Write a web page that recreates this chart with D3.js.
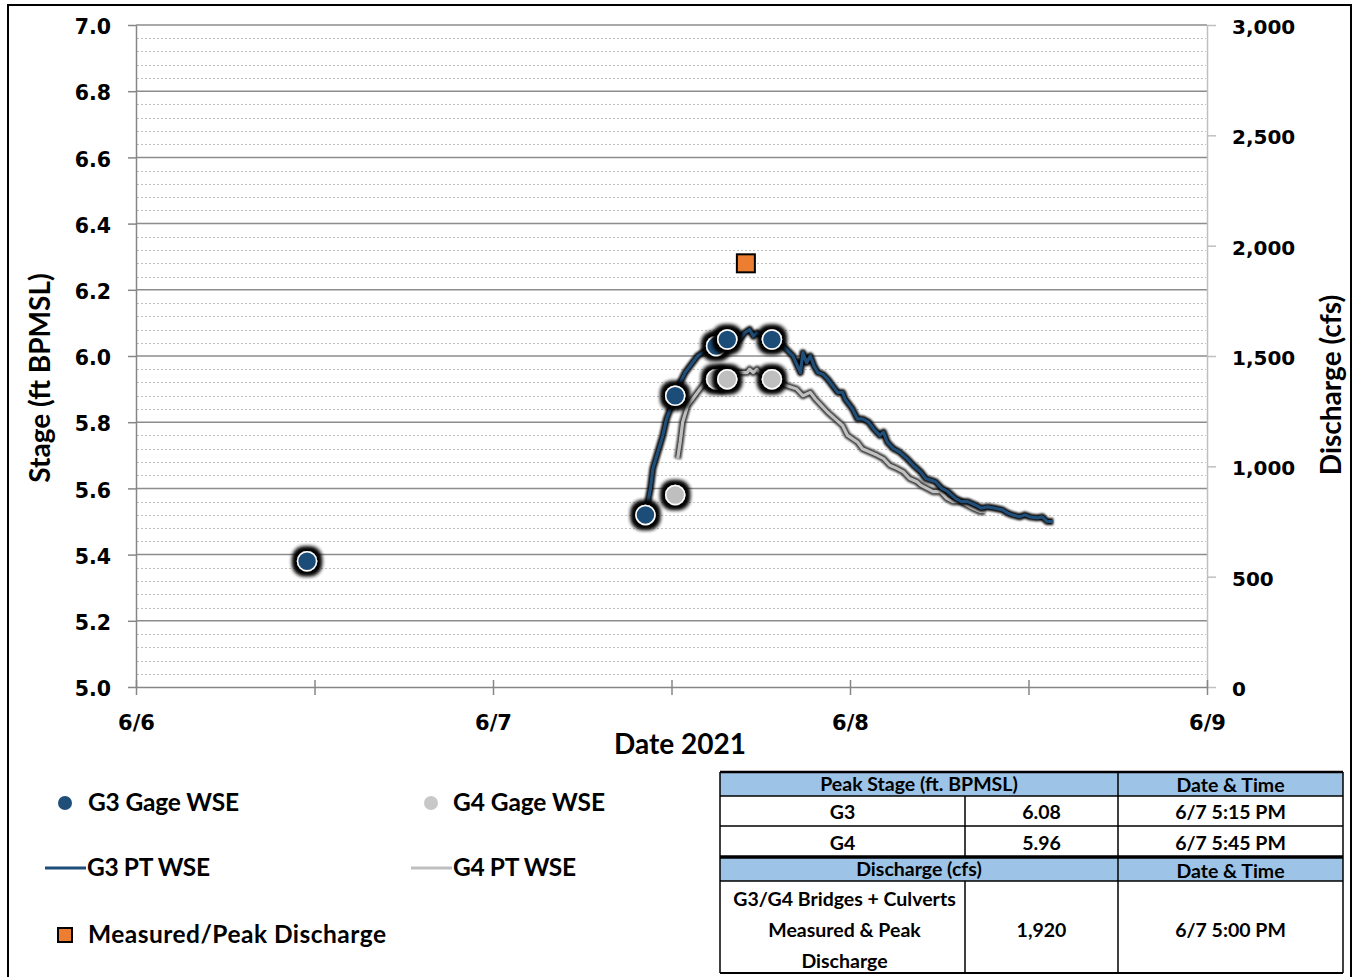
<!DOCTYPE html>
<html lang="en">
  <head>
    <meta charset="UTF-8">
    <title>Stage and Discharge</title>
    <script src="https://cdn.jsdelivr.net/npm/d3@7"></script>
    <style>
      html, body { margin: 0; padding: 0; background: #fff; }
      svg { display: block; }
      .tick text { font-family: "DejaVu Sans"; font-weight: bold; fill: #000; }
      .cal { font-family: Lato, "Open Sans", sans-serif; font-weight: bold; fill: #000; }
    </style>
  </head>
  <body>
    <script>
      // stage gage readings (ft BPMSL)
      const g3GageTimes = ["06-06 11:30", "06-07 10:15", "06-07 12:15", "06-07 15:00", "06-07 15:45", "06-07 18:45"];
      const g3GageStage = [5.38, 5.52, 5.88, 6.03, 6.05, 6.05];
      const g4GageTimes = ["06-07 12:15", "06-07 15:00", "06-07 15:45", "06-07 18:45"];
      const g4GageStage = [5.58, 5.93, 5.93, 5.93];

      // pressure transducer records
      const g3PtTimes = ["06-07 10:15", "06-07 10:35", "06-07 10:45", "06-07 11:05", "06-07 11:25", "06-07 11:40",
        "06-07 11:55", "06-07 12:15", "06-07 12:35", "06-07 12:55", "06-07 13:15", "06-07 13:35", "06-07 13:45",
        "06-07 14:05", "06-07 14:25", "06-07 15:00", "06-07 15:50", "06-07 16:25", "06-07 16:35", "06-07 16:55",
        "06-07 17:15", "06-07 17:30", "06-07 17:45", "06-07 18:05", "06-07 18:45", "06-07 18:55", "06-07 19:30",
        "06-07 20:10", "06-07 20:40", "06-07 20:50", "06-07 21:05", "06-07 21:20", "06-07 21:35", "06-07 21:50",
        "06-07 22:10", "06-07 22:30", "06-07 22:50", "06-07 23:10", "06-07 23:30", "06-07 23:40", "06-07 23:50",
        "06-08 00:10", "06-08 00:30", "06-08 00:50", "06-08 01:15", "06-08 01:35", "06-08 02:00", "06-08 02:15",
        "06-08 02:30", "06-08 02:55", "06-08 03:20", "06-08 03:50", "06-08 04:15", "06-08 04:45", "06-08 05:05",
        "06-08 05:25", "06-08 05:45", "06-08 06:10", "06-08 06:35", "06-08 07:05", "06-08 07:30", "06-08 07:55",
        "06-08 08:25", "06-08 08:50", "06-08 09:15", "06-08 09:45", "06-08 10:15", "06-08 10:35", "06-08 10:55",
        "06-08 11:25", "06-08 11:45", "06-08 12:05", "06-08 12:35", "06-08 12:55", "06-08 13:15", "06-08 13:40"];
      const g3PtStage = [5.52, 5.60, 5.66, 5.71, 5.76, 5.81,
        5.84, 5.88, 5.92, 5.95, 5.97, 5.99, 6.00,
        6.01, 6.02, 6.03, 6.05, 6.07, 6.05, 6.07,
        6.08, 6.06, 6.07, 6.06, 6.05, 6.05, 6.03,
        6.00, 5.95, 6.01, 5.98, 6.00, 5.97, 5.95,
        5.945, 5.93, 5.91, 5.89, 5.89, 5.87, 5.86,
        5.84, 5.81, 5.81, 5.80, 5.78, 5.76, 5.77,
        5.74, 5.72, 5.71, 5.69, 5.67, 5.65, 5.63,
        5.625, 5.62, 5.60, 5.59, 5.57, 5.56, 5.56,
        5.55, 5.54, 5.544, 5.54, 5.535, 5.526, 5.52,
        5.514, 5.52, 5.514, 5.511, 5.514, 5.50, 5.50];

      const g4PtTimes = ["06-07 12:25", "06-07 12:35", "06-07 12:45", "06-07 13:05", "06-07 13:25", "06-07 13:45",
        "06-07 14:05", "06-07 14:15", "06-07 14:55", "06-07 15:45", "06-07 16:25", "06-07 17:05", "06-07 17:15",
        "06-07 17:30", "06-07 17:45", "06-07 17:55", "06-07 18:35", "06-07 18:55", "06-07 19:45", "06-07 20:25",
        "06-07 20:50", "06-07 21:20", "06-07 21:40", "06-07 22:05", "06-07 22:30", "06-07 23:00", "06-07 23:30",
        "06-07 23:50", "06-08 00:30", "06-08 00:50", "06-08 01:20", "06-08 01:50", "06-08 02:15", "06-08 02:40",
        "06-08 03:10", "06-08 03:35", "06-08 04:00", "06-08 04:30", "06-08 04:45", "06-08 05:10", "06-08 05:35",
        "06-08 06:05", "06-08 06:30", "06-08 06:55", "06-08 07:25", "06-08 07:50", "06-08 08:15", "06-08 08:45",
        "06-08 09:05"];
      const g4PtStage = [5.69, 5.74, 5.80, 5.85, 5.87, 5.89,
        5.91, 5.92, 5.93, 5.94, 5.95, 5.95, 5.96,
        5.95, 5.96, 5.95, 5.94, 5.93, 5.91, 5.90,
        5.88, 5.89, 5.87, 5.85, 5.83, 5.81, 5.79,
        5.76, 5.74, 5.72, 5.71, 5.70, 5.69, 5.67,
        5.66, 5.65, 5.63, 5.62, 5.61, 5.60, 5.59,
        5.59, 5.57, 5.56, 5.56, 5.55, 5.54, 5.53,
        5.53];

      // measured / peak discharge (cfs)
      const dischargeTimes = ["06-07 17:00"];
      const dischargeValues = [1920];

      const stageTicks = [5.0, 5.2, 5.4, 5.6, 5.8, 6.0, 6.2, 6.4, 6.6, 6.8, 7.0];
      const flowTicks = [0, 500, 1000, 1500, 2000, 2500, 3000];

      // summary table
      const peakHeader = ["Peak Stage (ft. BPMSL)", "Date & Time"];
      const peakRows = [["G3", "6.08", "6/7 5:15 PM"], ["G4", "5.96", "6/7 5:45 PM"]];
      const flowHeader = ["Discharge (cfs)", "Date & Time"];
      const flowRow = [["G3/G4 Bridges + Culverts", "Measured & Peak", "Discharge"], "1,920", "6/7 5:00 PM"];

      const parse = s => d3.timeParse("%Y-%m-%d %H:%M")("2021-" + s);
      const zip = (ts, vs) => ts.map((t, i) => ({ t: parse(t), v: vs[i] }));

      const blue = "#1f4e79", grey = "#bfbfbf", orange = "#ed7d31";
      const pLeft = 136, pRight = 1207, pTop = 25, pBottom = 687;

      const svg = d3.select("body").append("svg").attr("width", 1354).attr("height", 977);

      const defs = svg.append("defs");
      const glow = defs.append("filter").attr("id", "glow")
        .attr("x", "-100%").attr("y", "-100%").attr("width", "300%").attr("height", "300%");
      glow.append("feMorphology").attr("in", "SourceAlpha").attr("operator", "dilate").attr("radius", 2.5).attr("result", "d");
      glow.append("feGaussianBlur").attr("in", "d").attr("stdDeviation", 2.5).attr("result", "b");
      const gm = glow.append("feMerge");
      gm.append("feMergeNode").attr("in", "b");
      gm.append("feMergeNode").attr("in", "b");
      gm.append("feMergeNode").attr("in", "b");
      gm.append("feMergeNode").attr("in", "SourceGraphic");

      defs.append("filter").attr("id", "soft")
        .attr("x", "-10%").attr("y", "-10%").attr("width", "120%").attr("height", "120%")
        .append("feGaussianBlur").attr("stdDeviation", 0.8);

      // outer frame
      svg.append("rect").attr("x", 8).attr("y", 5).attr("width", 1343).attr("height", 990)
        .attr("fill", "none").attr("stroke", "#000").attr("stroke-width", 2);

      const x = d3.scaleTime()
        .domain([new Date(2021, 5, 6), new Date(2021, 5, 9)])
        .range([pLeft, pRight]);
      const y = d3.scaleLinear().domain([5, 7]).range([pBottom, pTop]);
      const y2 = d3.scaleLinear().domain([0, 3000]).range([pBottom, pTop]);

      // minor dotted gridlines
      const minor = d3.range(5.04, 7.0, 0.04).filter(v => Math.abs(v * 5 - Math.round(v * 5)) > 0.01);
      svg.append("g").selectAll("line").data(minor).join("line")
        .attr("x1", pLeft + 1).attr("x2", pRight - 1)
        .attr("y1", d => Math.round(y(d)) + 0.5).attr("y2", d => Math.round(y(d)) + 0.5)
        .attr("stroke", "#bdbdbd").attr("stroke-dasharray", "2,2");

      // major gridlines
      svg.append("g").selectAll("line").data(stageTicks.slice(1)).join("line")
        .attr("x1", pLeft).attr("x2", pRight)
        .attr("y1", d => y(d)).attr("y2", d => y(d))
        .attr("stroke", "#8c8c8c").attr("stroke-width", 1.5);

      // right axis
      const rAxis = svg.append("g").attr("transform", `translate(${pRight},0)`)
        .call(d3.axisRight(y2).tickValues(flowTicks).tickFormat(d3.format(",")).tickSize(9).tickSizeOuter(0).tickPadding(16));
      rAxis.selectAll("path, line").attr("stroke", "#bfbfbf").attr("stroke-width", 1.5);
      rAxis.selectAll("text").attr("font-size", 20).attr("dy", "0.42em");

      // left axis
      const lAxis = svg.append("g").attr("transform", `translate(${pLeft},0)`)
        .call(d3.axisLeft(y).tickValues(stageTicks).tickFormat(d3.format(".1f")).tickSize(8).tickSizeOuter(0).tickPadding(17));
      lAxis.selectAll("path, line").attr("stroke", "#868686").attr("stroke-width", 1.5);
      lAxis.selectAll("text").attr("font-size", 20.5).attr("dy", "0.42em");

      // bottom axis
      const bAxis = svg.append("g").attr("transform", `translate(0,${pBottom})`)
        .call(d3.axisBottom(x).ticks(d3.timeHour.every(12)).tickSize(8).tickSizeOuter(0).tickPadding(20)
          .tickFormat(d => d.getHours() === 0 ? d3.timeFormat("%-m/%-d")(d) : ""));
      bAxis.selectAll("path, line").attr("stroke", "#868686").attr("stroke-width", 1.5);
      bAxis.selectAll(".tick line").attr("y1", -7);
      bAxis.selectAll("text").attr("font-size", 21);

      // axis titles
      svg.append("text").attr("class", "cal").attr("font-size", 28)
        .attr("transform", "translate(50,378) rotate(-90)").attr("text-anchor", "middle")
        .text("Stage (ft BPMSL)");
      svg.append("text").attr("class", "cal").attr("font-size", 28)
        .attr("transform", "translate(1341,385) rotate(-90)").attr("text-anchor", "middle")
        .text("Discharge (cfs)");
      svg.append("text").attr("class", "cal").attr("font-size", 28)
        .attr("x", 680).attr("y", 754).attr("text-anchor", "middle")
        .text("Date 2021");

      // PT lines
      const line = d3.line().x(d => x(d.t)).y(d => y(d.v));
      const drawLine = (data, color, under) => {
        svg.append("path").datum(data).attr("d", line).attr("fill", "none")
          .attr("stroke", under).attr("stroke-width", 7).attr("stroke-linejoin", "round")
          .attr("filter", "url(#soft)");
        svg.append("path").datum(data).attr("d", line).attr("fill", "none")
          .attr("stroke", color).attr("stroke-width", 3.2).attr("stroke-linejoin", "round");
      };
      drawLine(zip(g4PtTimes, g4PtStage), grey, "#333");
      drawLine(zip(g3PtTimes, g3PtStage), blue, "#000");

      // gage points
      const drawDots = (data, color) => {
        svg.append("g").selectAll("circle").data(data).join("circle")
          .attr("cx", d => x(d.t)).attr("cy", d => y(d.v)).attr("r", 9.5)
          .attr("fill", color).attr("stroke", "#fff").attr("stroke-width", 1.5)
          .attr("filter", "url(#glow)");
      };
      drawDots(zip(g4GageTimes, g4GageStage), grey);
      drawDots(zip(g3GageTimes, g3GageStage), blue);

      // discharge marker
      svg.append("g").selectAll("rect").data(zip(dischargeTimes, dischargeValues)).join("rect")
        .attr("x", d => x(d.t) - 9).attr("y", d => y2(d.v) - 9)
        .attr("width", 18).attr("height", 18)
        .attr("fill", orange).attr("stroke", "#000").attr("stroke-width", 2);

      // legend
      const lg = svg.append("g");
      lg.append("circle").attr("cx", 65).attr("cy", 803).attr("r", 7).attr("fill", blue);
      lg.append("circle").attr("cx", 431).attr("cy", 803).attr("r", 7).attr("fill", "#c8c8c8");
      lg.append("line").attr("x1", 45).attr("x2", 86).attr("y1", 868).attr("y2", 868).attr("stroke", blue).attr("stroke-width", 3);
      lg.append("line").attr("x1", 411).attr("x2", 452).attr("y1", 868).attr("y2", 868).attr("stroke", grey).attr("stroke-width", 3);
      lg.append("rect").attr("x", 58).attr("y", 928).attr("width", 14).attr("height", 14)
        .attr("fill", orange).attr("stroke", "#000").attr("stroke-width", 2);
      const legendText = [
        [88, 811, "G3 Gage WSE", 151], [453, 811, "G4 Gage WSE", 152],
        [87, 876, "G3 PT WSE", 123], [453, 876, "G4 PT WSE", 123],
        [88, 943, "Measured/Peak Discharge", 298]
      ];
      lg.selectAll("text").data(legendText).join("text").attr("class", "cal")
        .attr("font-size", 24.5).attr("x", d => d[0]).attr("y", d => d[1])
        .attr("textLength", d => d[3]).attr("lengthAdjust", "spacing")
        .text(d => d[2]);

      // table
      const tx = [720, 965, 1118, 1343];
      const ty = [772, 796, 826, 857, 881, 973];
      const tb = svg.append("g");
      tb.append("rect").attr("x", tx[0]).attr("y", ty[0]).attr("width", tx[3] - tx[0]).attr("height", ty[1] - ty[0]).attr("fill", "#9dc3e6");
      tb.append("rect").attr("x", tx[0]).attr("y", ty[3]).attr("width", tx[3] - tx[0]).attr("height", ty[4] - ty[3]).attr("fill", "#9dc3e6");
      const hl = (yy, w) => tb.append("line").attr("x1", tx[0]).attr("x2", tx[3]).attr("y1", yy).attr("y2", yy).attr("stroke", "#000").attr("stroke-width", w);
      const vl = (xx, y1, y3) => tb.append("line").attr("x1", xx).attr("x2", xx).attr("y1", y1).attr("y2", y3).attr("stroke", "#000").attr("stroke-width", 1.5);
      hl(ty[0], 2.5); hl(ty[1], 1.5); hl(ty[2], 1.5); hl(ty[3], 3.5); hl(ty[4], 1.5); hl(ty[5], 2);
      vl(tx[0], ty[0], ty[5]); vl(tx[3], ty[0], ty[5]); vl(tx[2], ty[0], ty[5]);
      vl(tx[1], ty[1], ty[3]); vl(tx[1], ty[4], ty[5]);

      const cell = (cx, cy, s) => tb.append("text").attr("class", "cal").attr("font-size", 19.5)
        .attr("x", cx).attr("y", cy).attr("text-anchor", "middle").text(s);
      const c01 = (tx[0] + tx[2]) / 2, c0 = (tx[0] + tx[1]) / 2, c1 = (tx[1] + tx[2]) / 2, c2 = (tx[2] + tx[3]) / 2;
      cell(c01, 791, peakHeader[0]); cell(c2, 792, peakHeader[1]);
      peakRows.forEach((r, i) => {
        const cy = 819 + i * 31;
        cell(c0, cy, r[0]); cell(c1, cy, r[1]); cell(c2, cy, r[2]);
      });
      cell(c01, 876, flowHeader[0]); cell(c2, 878, flowHeader[1]);
      flowRow[0].forEach((s, i) => cell(c0 + 2, 906 + i * 31, s));
      cell(c1, 937, flowRow[1]); cell(c2, 937, flowRow[2]);
    </script>
  </body>
</html>
